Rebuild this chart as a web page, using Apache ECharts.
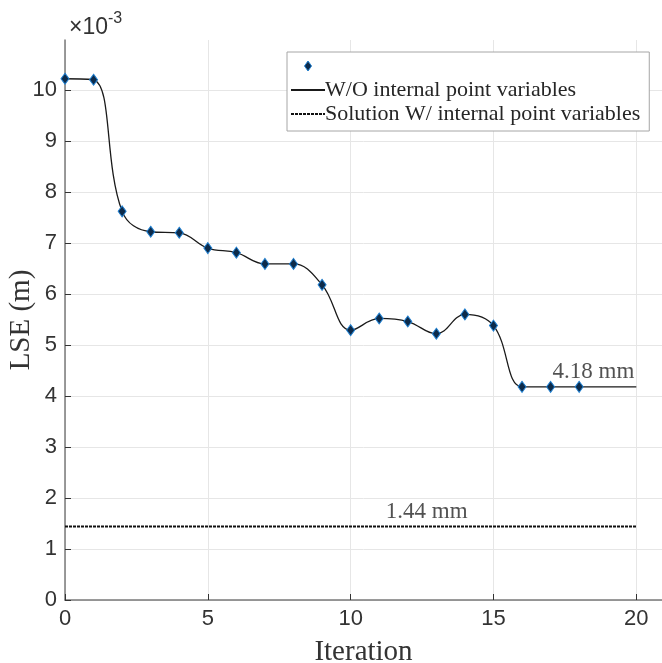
<!DOCTYPE html>
<html>
<head>
<meta charset="utf-8">
<script src="https://cdn.jsdelivr.net/npm/echarts@6/dist/echarts.min.js"></script>
<style>html,body{margin:0;padding:0;background:#fff;}#c{width:662px;height:663px;}</style>
</head>
<body>
<div id="c"></div>
<script>
// values in units of 1e-3 m
var markerIterations = [0,1,2,3,4,5,6,7,8,9,10,11,12,13,14,15,16,17,18];
var markerValues = [10.22,10.20,7.62,7.22,7.20,6.90,6.81,6.59,6.59,6.18,5.29,5.52,5.46,5.22,5.60,5.38,4.18,4.18,4.18];
var lineIterations = [0,1,2,3,4,5,6,7,8,9,10,11,12,13,14,15,16,17,18,19,20];
var lineValues = [10.22,10.20,7.62,7.22,7.20,6.90,6.81,6.59,6.59,6.18,5.29,5.52,5.46,5.22,5.60,5.38,4.18,4.18,4.18,4.18,4.18];
var solutionIterations = [0,20];
var solutionValues = [1.44,1.44];
var annotationX = [18.5, 12.66];
var annotationY = [4.47, 1.72];
var annotationText = ['4.18 mm', '1.44 mm'];
var xTicks = [0,5,10,15,20];
var yTicks = [0,1,2,3,4,5,6,7,8,9,10];
var names = ['pts','W/O internal point variables','Solution W/ internal point variables'];

function pairs(xs, ys){ return xs.map(function(x,i){ return [x, ys[i]]; }); }

var serif = 'Liberation Serif';
var sans = 'Liberation Sans';
var chart = echarts.init(document.getElementById('c'));
chart.setOption({
  animation: false,
  backgroundColor: '#fff',
  title: {
    text: '{a|×10}{b|-3}',
    left: 64, top: 6,
    textStyle: {
      fontWeight: 'normal',
      rich: {
        a: {fontFamily: sans, fontSize: 23, fontWeight: 'normal', color: '#333', verticalAlign: 'bottom'},
        b: {fontFamily: sans, fontSize: 16, fontWeight: 'normal', color: '#333', verticalAlign: 'top', padding: [0,0,12,0]}
      }
    }
  },
  grid: {left: 65, top: 40, right: 0, bottom: 63, containLabel: false, outerBoundsMode: 'none'},
  legend: {
    orient: 'vertical',
    left: 287, top: 52,
    data: [
      {name: names[0], icon: 'path://M0,0M34,10M13.5,5L17,0L20.5,5L17,10Z',
        itemStyle: {color: '#0d2b4a', borderColor: '#1f7fd0', borderWidth: 1}},
      {name: names[1], itemStyle: {opacity: 0}},
      {name: names[2], itemStyle: {opacity: 0}}
    ],
    backgroundColor: '#fff',
    borderColor: '#a6a6a6', borderWidth: 1,
    borderRadius: 0,
    padding: [2, 9, 5, 3],
    itemGap: 0,
    itemWidth: 34, itemHeight: 10,
    textStyle: {fontFamily: serif, fontSize: 22, color: '#262626', lineHeight: 24, padding: [0,0,0,-5]},
    formatter: function(n){ return n === 'pts' ? '\u00a0' : n; }
  },
  xAxis: {
    type: 'value', min: 0, max: 20.9, interval: 5,
    name: 'Iteration', nameLocation: 'middle', nameGap: 38, nameMoveOverlap: false,
    nameTextStyle: {fontFamily: serif, fontSize: 29, color: '#333'},
    axisLine: {onZero: false, lineStyle: {color: '#7a7a7a', width: 1.5}},
    axisTick: {inside: true, length: 6, lineStyle: {color: '#333'}},
    axisLabel: {fontFamily: sans, fontSize: 22, color: '#333', margin: 8, showMaxLabel: false,
      formatter: function(v){ return xTicks.indexOf(v) >= 0 ? String(v) : ''; }},
    splitLine: {show: true, showMaxLine: false, lineStyle: {color: '#e6e6e6', width: 1}}
  },
  yAxis: {
    type: 'value', min: 0, max: 10.98, interval: 1,
    name: 'LSE (m)', nameLocation: 'middle', nameGap: 29, nameMoveOverlap: false,
    nameTextStyle: {fontFamily: serif, fontSize: 29, color: '#333'},
    axisLine: {show: true, onZero: false, lineStyle: {color: '#7a7a7a', width: 1.5}},
    axisTick: {show: true, inside: true, length: 6, lineStyle: {color: '#333'}},
    axisLabel: {fontFamily: sans, fontSize: 22, color: '#333', margin: 8, showMaxLabel: false,
      formatter: function(v){ return yTicks.indexOf(v) >= 0 ? String(v) : ''; }},
    splitLine: {show: true, showMaxLine: false, lineStyle: {color: '#e6e6e6', width: 1}}
  },
  series: [
    {
      name: names[1], type: 'line', data: pairs(lineIterations, lineValues),
      smooth: 0.4, symbol: 'none', showSymbol: false, z: 3,
      lineStyle: {color: '#1a1a1a', width: 1.3},
      itemStyle: {color: '#1a1a1a'}
    },
    {
      name: names[2], type: 'line', data: pairs(solutionIterations, solutionValues),
      symbol: 'none', showSymbol: false, z: 3,
      lineStyle: {color: '#111', width: 2, type: [3, 1]},
      itemStyle: {color: '#111'}
    },
    {
      name: names[0], type: 'scatter', data: pairs(markerIterations, markerValues),
      symbol: 'diamond', symbolSize: [8, 11], z: 5,
      itemStyle: {color: '#0d2b4a', borderColor: '#1f7fd0', borderWidth: 1, opacity: 1}
    },
    {
      name: 'annotations', type: 'scatter', z: 6, silent: true,
      data: annotationX.map(function(x,i){ return {value: [x, annotationY[i]], name: annotationText[i]}; }),
      symbol: 'circle', symbolSize: 1,
      itemStyle: {color: 'rgba(0,0,0,0)'},
      label: {show: true, position: 'inside', formatter: '{b}', fontFamily: serif, fontSize: 23, color: '#262626'}
    }
  ]
});
</script>
</body>
</html>
